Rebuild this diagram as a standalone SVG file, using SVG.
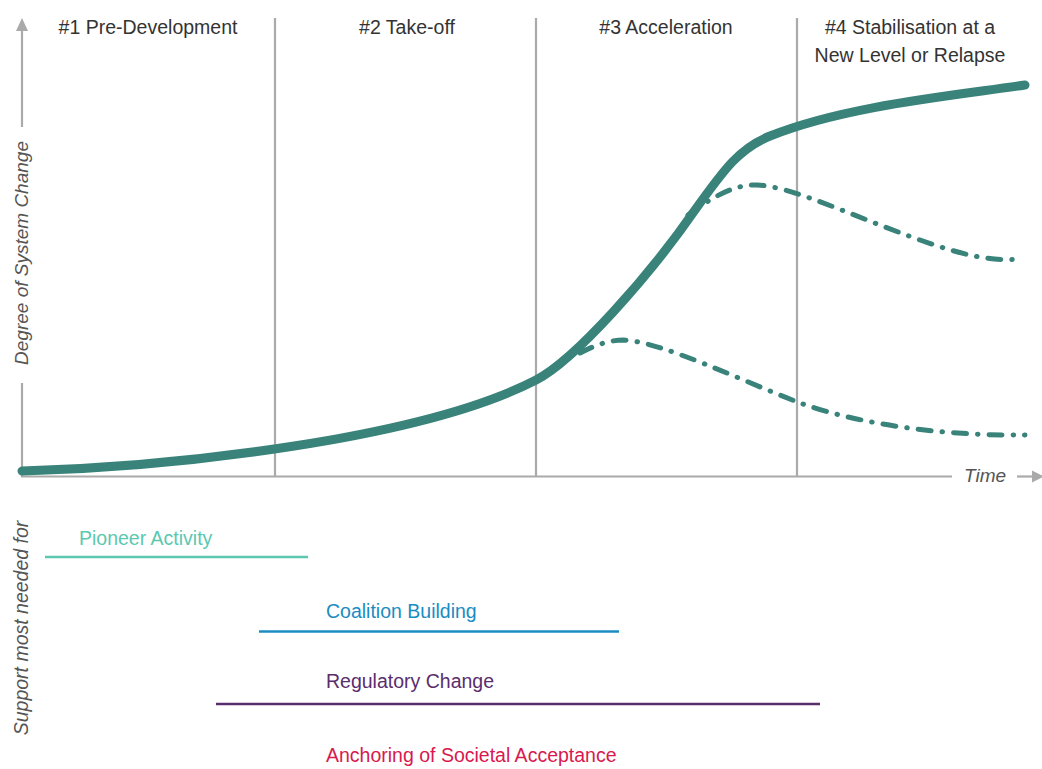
<svg xmlns="http://www.w3.org/2000/svg" width="1042" height="769" viewBox="0 0 1042 769">
<style>
.t{font-family:"Liberation Sans",Arial,sans-serif;font-size:19.5px;fill:#333}
.ax{stroke:#aaa;stroke-width:2.2;fill:none}
.it{font-family:"Liberation Sans",Arial,sans-serif;font-style:italic;font-size:19px;fill:#555}
.main{stroke:#39837a;stroke-width:9;fill:none;stroke-linecap:round}
.dd{stroke:#39837a;stroke-width:5;fill:none;stroke-linecap:round;stroke-dasharray:13 11 0.5 11}
.lab{font-family:"Liberation Sans",Arial,sans-serif;font-size:19.5px}
</style>
<rect width="1042" height="769" fill="#fff"/>
<g id="axes">
<line class="ax" x1="22" y1="30" x2="22" y2="127"/>
<line class="ax" x1="22" y1="383" x2="22" y2="477"/>
<polygon points="22,18 16,31 28,31" fill="#aaa"/>
<line class="ax" x1="21" y1="476.5" x2="952" y2="476.5"/>
<line class="ax" x1="1017" y1="476.5" x2="1034" y2="476.5"/>
<polygon points="1044,476.5 1032,470.5 1032,482.5" fill="#aaa"/>
<text class="it" transform="translate(28,253) rotate(-90)" text-anchor="middle">Degree of System Change</text>
<text class="it" x="985" y="482" text-anchor="middle">Time</text>
</g>
<g id="phases">
<line class="ax" x1="275" y1="18" x2="275" y2="476"/>
<line class="ax" x1="536" y1="18" x2="536" y2="476"/>
<line class="ax" x1="797" y1="18" x2="797" y2="476"/>
<text class="t" x="148" y="34" text-anchor="middle">#1 Pre-Development</text>
<text class="t" x="407" y="34" text-anchor="middle">#2 Take-off</text>
<text class="t" x="666" y="34" text-anchor="middle">#3 Acceleration</text>
<text class="t" x="910" y="34" text-anchor="middle">#4 Stabilisation at a</text>
<text class="t" x="910" y="62" text-anchor="middle">New Level or Relapse</text>
</g>
<g id="curves">
<path class="dd" d="M688,215 C712,197 735,184 757,185 C790,186 850,215 920,240 C960,254 990,262 1020,259"/>
<path class="dd" d="M580,353 C595,345 610,340 623,340 C660,341 740,380 800,403 C870,428 960,436 1025,435"/>
<path class="main" d="M22,471 C170,467 420,440 536,380 C575,360 650,275 695,210 C725,168 740,148 770,136 C845,106 950,96 1025,85"/>
</g>
<g id="support">
<text class="it" transform="translate(28,628) rotate(-90)" text-anchor="middle" style="font-size:19.5px">Support most needed for</text>
<g id="pioneer">
<text class="lab" x="79" y="545" fill="#5cc8b0">Pioneer Activity</text>
<line x1="45" y1="557" x2="308" y2="557" stroke="#5cc8b0" stroke-width="2.5"/>
</g>
<g id="coalition">
<text class="lab" x="326" y="618" fill="#1a8cc2">Coalition Building</text>
<line x1="259" y1="631.5" x2="619" y2="631.5" stroke="#1a8cc2" stroke-width="2.5"/>
</g>
<g id="regulatory">
<text class="lab" x="326" y="688" fill="#5a2d6e">Regulatory Change</text>
<line x1="216" y1="704" x2="820" y2="704" stroke="#5a2d6e" stroke-width="2.5"/>
</g>
<g id="anchoring">
<text class="lab" x="326" y="762" fill="#d8194f">Anchoring of Societal Acceptance</text>
</g>
</g>
</svg>
